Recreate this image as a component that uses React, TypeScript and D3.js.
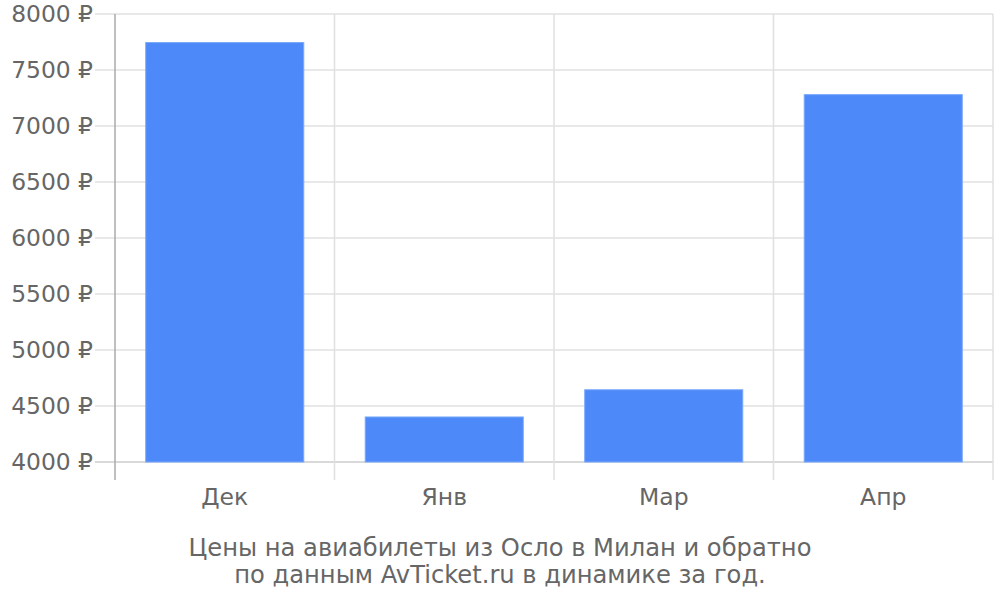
import React from "react";
import * as d3 from "d3";

const categories = ["Дек", "Янв", "Мар", "Апр"];
const prices = [7745, 4402, 4645, 7280];
const yTicks = [4000, 4500, 5000, 5500, 6000, 6500, 7000, 7500, 8000];
const titleLines = [
  "Цены на авиабилеты из Осло в Милан и обратно",
  "по данным AvTicket.ru в динамике за год.",
];

export default function App() {
  const W = 1000;
  const H = 600;
  const left = 115;
  const right = 993;
  const top = 14;
  const bottom = 462;
  const font = "DejaVu Sans, sans-serif";
  const textColor = "#666";

  const y = d3.scaleLinear().domain([4000, 8000]).range([bottom, top]);
  const xCells = d3.scaleBand<string>().domain(categories).range([left, right]).padding(0);
  const xBars = d3
    .scaleBand<string>()
    .domain(categories)
    .range([left, right])
    .paddingInner(0.28)
    .paddingOuter(0.14);

  return (
    <svg
      width={W}
      height={H}
      style={{ position: "absolute", left: 0, top: 0, background: "#fff" }}
    >
      {yTicks.map((t) => (
        <g key={t}>
          <line
            x1={95}
            x2={right}
            y1={y(t)}
            y2={y(t)}
            stroke={t === 4000 ? "#ccc" : "#e0e0e0"}
            strokeWidth={1.5}
          />
          <text
            x={93}
            y={y(t)}
            dy="0.35em"
            textAnchor="end"
            fontFamily={font}
            fontSize={23.4}
            fill={textColor}
          >
            {`${t} ₽`}
          </text>
        </g>
      ))}
      {categories.map((c) => (
        <line
          key={"v" + c}
          x1={(xCells(c) as number) + xCells.bandwidth()}
          x2={(xCells(c) as number) + xCells.bandwidth()}
          y1={top}
          y2={480}
          stroke="#e0e0e0"
          strokeWidth={1.5}
        />
      ))}
      <line x1={left} x2={left} y1={top} y2={480} stroke="#aaa" strokeWidth={1.5} />
      {categories.map((c, i) => (
        <rect
          key={"b" + c}
          x={xBars(c)}
          y={y(prices[i])}
          width={xBars.bandwidth()}
          height={bottom - y(prices[i])}
          fill="#4d89f9"
          stroke="#7aa8fb"
          strokeWidth={1}
        />
      ))}
      {categories.map((c) => (
        <text
          key={"l" + c}
          x={(xCells(c) as number) + xCells.bandwidth() / 2}
          y={505}
          textAnchor="middle"
          fontFamily={font}
          fontSize={23.5}
          fill={textColor}
        >
          {c}
        </text>
      ))}
      {titleLines.map((l, i) => (
        <text
          key={"t" + i}
          x={500}
          y={556 + i * 26.5}
          textAnchor="middle"
          fontFamily={font}
          fontSize={24.2}
          fill={textColor}
        >
          {l}
        </text>
      ))}
    </svg>
  );
}
